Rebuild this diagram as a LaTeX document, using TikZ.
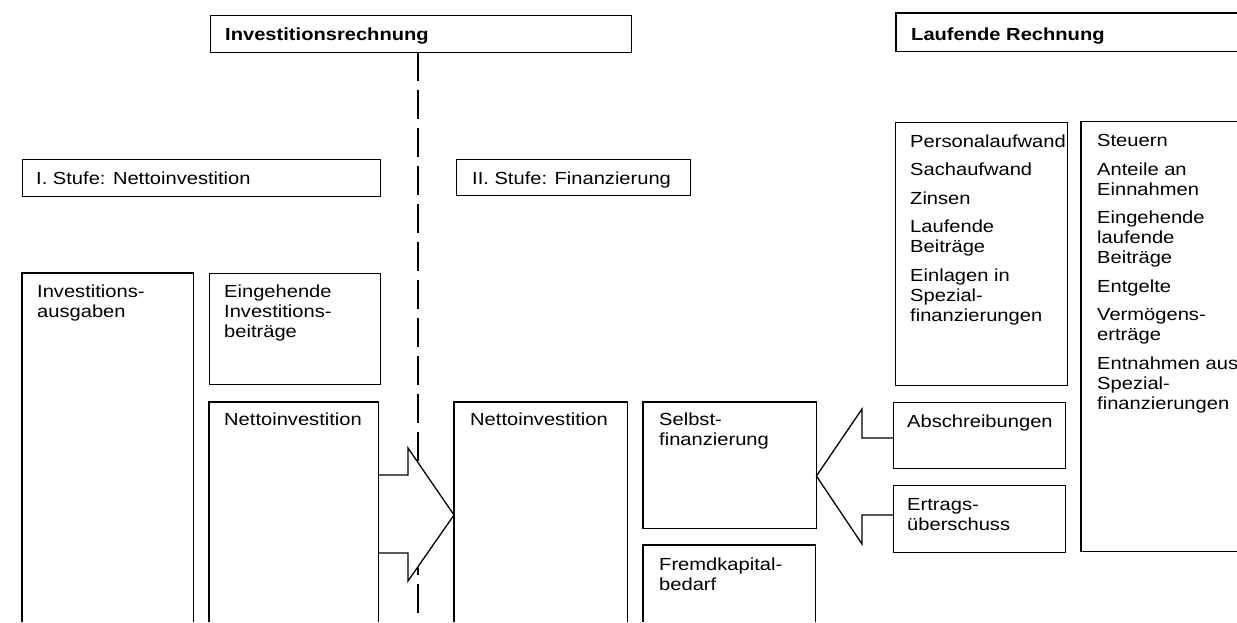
\documentclass[tikz,border=0pt]{standalone}
\usepackage{fontspec}
\setmainfont[FakeStretch=1.15]{Liberation Sans}
\usetikzlibrary{calc}
\begin{document}
\begin{tikzpicture}[x=1pt,y=-1pt,
  lw/.style={line width=1.3pt},
  box/.style={draw, lw, inner sep=0pt, anchor=north west},
  openbox/.style={inner sep=0pt, anchor=north west},
  txt/.style={anchor=north west, inner sep=0pt, align=left, font=\fontsize{17.5}{20}\selectfont},
  ttl/.style={anchor=base west, inner sep=0pt, font=\fontsize{17.5}{20}\selectfont},
  blockarrow/.style={draw, lw, fill=white, line join=miter},
  divider/.style={draw, lw, dash pattern=on 29pt off 9pt}]
\useasboundingbox (0,0) rectangle (1237,622);

% dashed divider (drawn first so that the arrow covers it)
\coordinate (dtop) at (418,52);
\coordinate (dbot) at (418,622);
\path[divider] (dtop) -- (dbot);

% open boxes (cut by the picture edge) - named frames
\node[openbox, minimum width=341, minimum height=38] (lauf) at (896,13) {};
\node[openbox, minimum width=156, minimum height=429.5] (steuer) at (1081,121.5) {};
\node[openbox, minimum width=171, minimum height=349] (ausg) at (22,273) {};
\node[openbox, minimum width=169, minimum height=220] (netto1) at (209,402) {};
\node[openbox, minimum width=173, minimum height=220] (netto2) at (454,402) {};
\node[openbox, minimum width=172, minimum height=77] (fremd) at (643,545) {};
\node[openbox, minimum width=173, minimum height=126] (selbst) at (643,402) {};

% block arrows
\draw[blockarrow] (netto1.east |- 0,475) -- (408,475) -- (408,448) -- (netto2.west |- 0,515) -- (408,581) -- (408,553) -- (netto1.east |- 0,553);
\draw[blockarrow] (893,438) -- (862,438) -- (862,409) -- (selbst.east |- 0,476) -- (862,544) -- (862,515) -- (893,515);

% closed boxes
\node[box, minimum width=421, minimum height=37] (inv) at (210,15) {};
\node[box, minimum width=358, minimum height=37] (st1) at (22,159) {};
\node[box, minimum width=234, minimum height=36] (st2) at (456,159) {};
\node[box, minimum width=171, minimum height=111] (eing) at (209,273) {};
\draw[lw] (selbst.north west) rectangle (selbst.south east);
\node[box, minimum width=172, minimum height=263] (pers) at (895,121.5) {};
\node[box, minimum width=172, minimum height=66] (abschr) at (893,402) {};
\node[box, minimum width=172, minimum height=67] (ertrag) at (893,485) {};

% open box outlines
\draw[lw] (lauf.north east) -| (lauf.south west) -- (lauf.south east);
\draw[lw] (steuer.north east) -| (steuer.south west) -- (steuer.south east);
\draw[lw] (ausg.south west) |- (ausg.north east) -- (ausg.south east);
\draw[lw] (netto1.south west) |- (netto1.north east) -- (netto1.south east);
\draw[lw] (netto2.south west) |- (netto2.north east) -- (netto2.south east);
\draw[lw] (fremd.south west) |- (fremd.north east) -- (fremd.south east);

% titles
\node[ttl, font=\fontsize{17.5}{20}\bfseries] (tinv) at (225,40) {Investitionsrechnung};
\node[ttl, font=\fontsize{17.5}{20}\bfseries] (tlauf) at (911,40) {Laufende Rechnung};
\node[ttl] (tst1) at (36,184) {I. Stufe: Nettoinvestition};
\node[ttl] (tst2) at (472,184) {II. Stufe: Finanzierung};

% box texts
\node[txt] (tausg) at ($(ausg.north west)+(15,12)$) {Investitions-\\ausgaben};
\node[txt] (teing) at ($(eing.north west)+(15,12)$) {Eingehende\\Investitions-\\beiträge};
\node[txt] (tn1) at ($(netto1.north west)+(15,11)$) {Nettoinvestition};
\node[txt] (tn2) at ($(netto2.north west)+(16,11)$) {Nettoinvestition};
\node[txt] (tselbst) at ($(selbst.north west)+(16,11)$) {Selbst-\\finanzierung};
\node[txt] (tfremd) at ($(fremd.north west)+(16,13)$) {Fremdkapital-\\bedarf};
\node[txt] (tpers) at ($(pers.north west)+(15,13)$) {Personalaufwand\\[8.5pt]Sachaufwand\\[8.5pt]Zinsen\\[8.5pt]Laufende\\Beiträge\\[8.5pt]Einlagen in\\Spezial-\\finanzierungen};
\node[txt] (tsteuer) at ($(steuer.north west)+(16,13)$) {Steuern\\[8.5pt]Anteile an\\Einnahmen\\[8.5pt]Eingehende\\laufende\\Beiträge\\[8.5pt]Entgelte\\[8.5pt]Vermögens-\\erträge\\[8.5pt]Entnahmen aus\\Spezial-\\finanzierungen};
\node[txt] (tabschr) at ($(abschr.north west)+(14,13)$) {Abschreibungen};
\node[txt] (tertrag) at ($(ertrag.north west)+(14,13)$) {Ertrags-\\überschuss};
\end{tikzpicture}
\end{document}
